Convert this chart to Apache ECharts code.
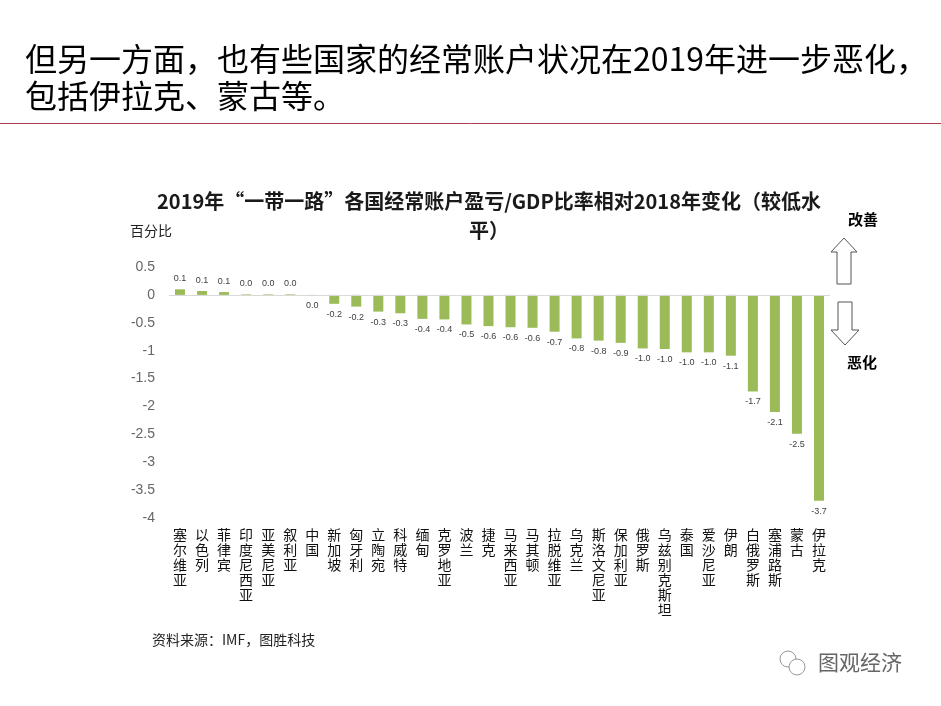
<!DOCTYPE html>
<html>
<head>
<meta charset="utf-8">
<script src="https://cdn.jsdelivr.net/npm/echarts@6/dist/echarts.min.js"></script>
<style>html,body{margin:0;padding:0;background:#fff;}#c{width:941px;height:706px;}</style>
</head>
<body>
<div id="c"></div>
<script>
var categories = ['塞尔维亚','以色列','菲律宾','印度尼西亚','亚美尼亚','叙利亚','中国','新加坡','匈牙利','立陶宛','科威特','缅甸','克罗地亚','波兰','捷克','马来西亚','马其顿','拉脱维亚','乌克兰','斯洛文尼亚','保加利亚','俄罗斯','乌兹别克斯坦','泰国','爱沙尼亚','伊朗','白俄罗斯','塞浦路斯','蒙古','伊拉克'];
var values = [0.10,0.07,0.05,0.01,0.01,0.01,-0.01,-0.16,-0.21,-0.30,-0.33,-0.43,-0.44,-0.53,-0.56,-0.58,-0.59,-0.66,-0.78,-0.82,-0.86,-0.96,-0.97,-1.03,-1.03,-1.09,-1.73,-2.10,-2.49,-3.69];
var yTicks = [0.5,0,-0.5,-1,-1.5,-2,-2.5,-3,-3.5,-4];

var FONT = '"Noto Sans CJK SC","Liberation Sans",sans-serif';
var chart = echarts.init(document.getElementById('c'));
chart.setOption({
  backgroundColor:'#fff',
  animation:false,
  title:{
    text:'2019年“一带一路”各国经常账户盈亏/GDP比率相对2018年变化（较低水\n平）',
    left:484, top:182, textAlign:'center',
    textStyle:{fontFamily:'"Noto Sans CJK SC",sans-serif',fontSize:20,fontWeight:'bold',color:'#1a1a1a',lineHeight:29}
  },
  grid:{left:169,right:111,top:267,bottom:188,containLabel:false},
  xAxis:{
    type:'category', data:categories,
    axisLine:{show:false,onZero:false}, axisTick:{show:false},
    axisLabel:{interval:0,margin:9,fontFamily:FONT,fontSize:14,lineHeight:15,color:'#111',
      formatter:function(v){return v.split('').join('\n');}}
  },
  yAxis:{
    type:'value', min:-4, max:0.5, interval:0.5,
    axisLine:{show:false}, axisTick:{show:false}, splitLine:{show:false},
    axisLabel:{margin:14,fontFamily:'"Liberation Sans",sans-serif',fontSize:14,color:'#666',
      formatter:function(v){return yTicks.indexOf(v)>=0 ? String(v) : '';}}
  },
  series:[{
    type:'bar', barWidth:10,
    data:values.map(function(v){return {value:v,label:{position:v<0?'bottom':'top'}};}),
    itemStyle:{color:'#9bbb59'},
    label:{show:true,fontFamily:'"Liberation Sans",sans-serif',fontSize:9,color:'#404040',distance:6,
      formatter:function(p){return Math.abs(p.value)<0.05?'0.0':p.value.toFixed(1);}},
    markLine:{silent:true,symbol:['none','none'],label:{show:false},
      lineStyle:{color:'#d9d9d9',width:1,type:'solid'},data:[{yAxis:0}]}
  }],
  graphic:[
    {type:'text',left:25,top:40,style:{text:'但另一方面，也有些国家的经常账户状况在2019年进一步恶化，\n包括伊拉克、蒙古等。',
      font:'32px "Noto Sans CJK SC",sans-serif',fill:'#000',lineHeight:37}},
    {type:'line',shape:{x1:0,y1:123.5,x2:941,y2:123.5},style:{stroke:'#b03a48',lineWidth:1}},
    {type:'text',left:130,top:224,style:{text:'百分比',font:'14px "Noto Sans CJK SC",sans-serif',fill:'#222'}},
    {type:'text',left:848,top:212,style:{text:'改善',font:'bold 15px "Noto Sans CJK SC",sans-serif',fill:'#000'}},
    {type:'text',left:847,top:355,style:{text:'恶化',font:'bold 15px "Noto Sans CJK SC",sans-serif',fill:'#000'}},
    {type:'polygon',shape:{points:[[844,238],[857,252],[851,252],[851,284],[837,284],[837,252],[831,252]]},
      style:{fill:'#fff',stroke:'#555',lineWidth:1}},
    {type:'polygon',shape:{points:[[838,302],[852,302],[852,330],[859,330],[845,345],[831,330],[838,330]]},
      style:{fill:'#fff',stroke:'#555',lineWidth:1}},
    {type:'text',left:152,top:633,style:{text:'资料来源：IMF，图胜科技',font:'14px "Noto Sans CJK SC",sans-serif',fill:'#222'}},
    {type:'circle',shape:{cx:788,cy:659,r:8},style:{fill:'none',stroke:'#999',lineWidth:1}},
    {type:'circle',shape:{cx:797,cy:667,r:8},style:{fill:'#fff',stroke:'#999',lineWidth:1}},
    {type:'text',left:818,top:652,style:{text:'图观经济',font:'21px "Noto Sans CJK SC",sans-serif',fill:'#666'}}
  ]
});
</script>
</body>
</html>
